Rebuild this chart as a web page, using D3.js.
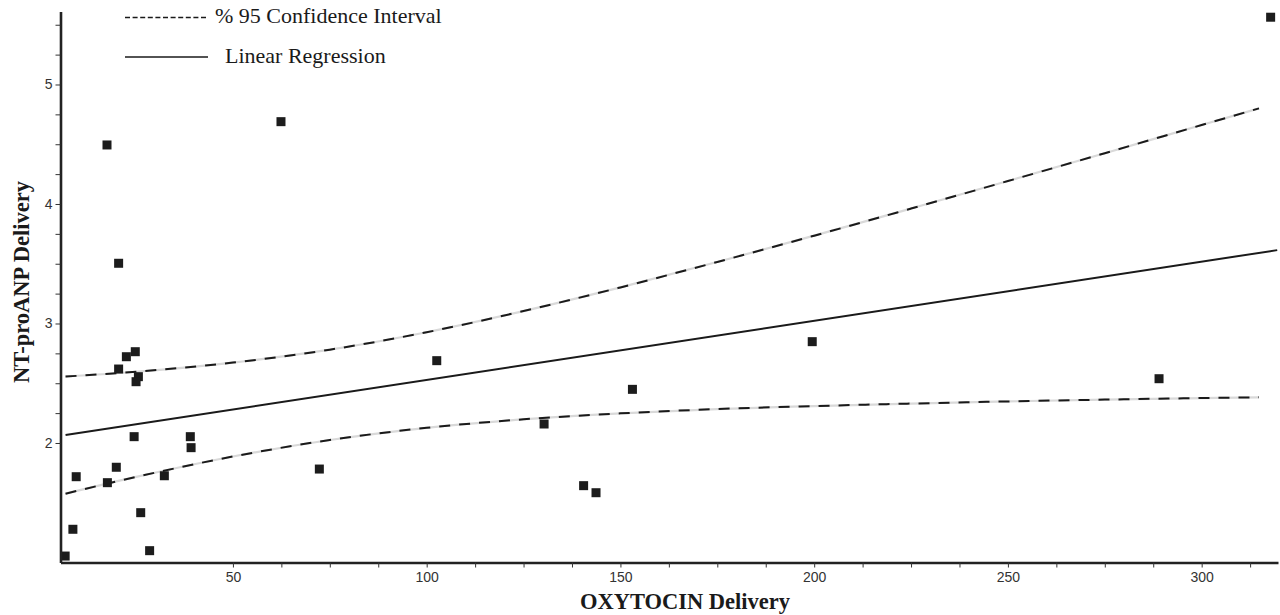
<!DOCTYPE html>
<html>
<head>
<meta charset="utf-8">
<script src="https://cdn.jsdelivr.net/npm/d3@7"></script>
<style>
  html, body { margin: 0; padding: 0; background: #fff; }
  svg { display: block; }
</style>
</head>
<body>
<svg id="chart" width="1280" height="615"></svg>
<script>
// ---- data ----
const oxytocin = [6.7, 8.7, 9.55, 17.6, 19.9, 20.5, 22.5, 24.8, 25.6, 25.0, 24.5, 26.2, 28.5, 32.3, 39.0, 39.2,
                  17.5, 20.5, 62.4, 72.3, 102.6, 130.3, 140.5, 143.7, 153.1, 199.5, 289.0, 317.8];
const ntproanp = [1.054, 1.278, 1.718, 1.668, 1.797, 2.619, 2.722, 2.764, 2.555, 2.513, 2.053, 1.417, 1.099, 1.726, 2.053, 1.961,
                  4.494, 3.504, 4.689, 1.782, 2.689, 2.159, 1.643, 1.584, 2.449, 2.848, 2.538, 5.563];

const regX = [6.8, 319.5];
const regY = [2.066, 3.614];

const ciX     = [6.8, 25, 50, 75, 100, 125, 150, 175, 200, 225, 250, 275, 300, 314.8];
const ciUpper = [2.556, 2.596, 2.673, 2.781, 2.927, 3.104, 3.302, 3.515, 3.735, 3.962, 4.192, 4.425, 4.661, 4.800];
const ciLower = [1.576, 1.716, 1.887, 2.025, 2.127, 2.198, 2.248, 2.284, 2.309, 2.330, 2.348, 2.363, 2.376, 2.382];

const xTickLabels = [50, 100, 150, 200, 250, 300];
const yTickLabels = [2, 3, 4, 5];
const xMinorTicks = [50, 62.5, 75, 87.5, 100, 112.5, 125, 137.5, 150, 162.5, 175, 187.5, 200, 212.5, 225, 237.5, 250, 262.5, 275, 287.5, 300, 312.5];
const yMinorTicks = [2, 2.25, 2.5, 2.75, 3, 3.25, 3.5, 3.75, 4, 4.25, 4.5, 4.75, 5, 5.25, 5.5];

const legendLabels = ["% 95 Confidence Interval", "Linear Regression"];
const xTitle = "OXYTOCIN Delivery";
const yTitle = "NT-proANP Delivery";

// ---- drawing ----
const svg = d3.select("#chart");
const x = d3.scaleLinear().domain([5.5, 319.7]).range([60.5, 1278]);
const y = d3.scaleLinear().domain([1, 5.61]).range([562.5, 11.6]);

const axisColor = "#222";
const tickFont = "'Liberation Sans Narrow', 'Arial Narrow', 'Liberation Sans', Arial, sans-serif";
const serif = "'Liberation Serif', 'Times New Roman', Times, serif";

// CI curves: light grey underlay + black dashes
function ciLine(vals) {
  return d3.line().x((d, i) => x(ciX[i])).y(d => y(d)).curve(d3.curveMonotoneX)(vals);
}
[ciUpper, ciLower].forEach(vals => {
  svg.append("path").attr("d", ciLine(vals)).attr("fill", "none")
    .attr("stroke", "#d9d9d9").attr("stroke-width", 2.2);
  svg.append("path").attr("d", ciLine(vals)).attr("fill", "none")
    .attr("stroke", "#1a1a1a").attr("stroke-width", 2).attr("stroke-dasharray", "11,9");
});

// regression line
svg.append("path")
  .attr("d", d3.line().x((d, i) => x(regX[i])).y(d => y(d))(regY))
  .attr("fill", "none").attr("stroke", "#1a1a1a").attr("stroke-width", 2);

// points
const sz = 9;
svg.append("g").selectAll("rect").data(oxytocin).join("rect")
  .attr("x", (d) => x(d) - sz / 2)
  .attr("y", (d, i) => y(ntproanp[i]) - sz / 2)
  .attr("width", sz).attr("height", sz)
  .attr("fill", "#1c1c1c");

// axes
const xAxis = d3.axisBottom(x).tickValues(xMinorTicks)
  .tickFormat(d => xTickLabels.includes(d) ? d : "")
  .tickSize(5).tickSizeOuter(0).tickPadding(5);
const gx = svg.append("g").attr("transform", `translate(0,${y(1)})`).call(xAxis);

const yAxis = d3.axisLeft(y).tickValues(yMinorTicks)
  .tickFormat(d => yTickLabels.includes(d) ? d : "")
  .tickSize(5).tickSizeOuter(0).tickPadding(3);
const gy = svg.append("g").attr("transform", `translate(${x(5.5)},0)`).call(yAxis);

[gx, gy].forEach(g => {
  g.select(".domain").attr("stroke", axisColor).attr("stroke-width", 2.6);
  g.selectAll(".tick line").attr("stroke", "#333").attr("stroke-width", 1);
  g.selectAll(".tick text").attr("fill", "#333").style("font-family", tickFont).style("font-size", "14px");
});

// axis titles
svg.append("text").attr("x", 685).attr("y", 609).attr("text-anchor", "middle")
  .style("font-family", serif).style("font-weight", "bold").style("font-size", "22.5px")
  .attr("fill", "#1a1a1a").text(xTitle);

svg.append("text").attr("transform", "translate(29,282) rotate(-90)").attr("text-anchor", "middle")
  .style("font-family", serif).style("font-weight", "bold").style("font-size", "22.5px")
  .attr("fill", "#1a1a1a").text(yTitle);

// legend
const lg = svg.append("g");
lg.append("line").attr("x1", 125).attr("x2", 208).attr("y1", 17.5).attr("y2", 17.5)
  .attr("stroke", "#1a1a1a").attr("stroke-width", 1.5).attr("stroke-dasharray", "5,2.6");
lg.append("text").attr("x", 215).attr("y", 23).text(legendLabels[0])
  .style("font-family", serif).style("font-size", "22px").attr("fill", "#1a1a1a");
lg.append("line").attr("x1", 125).attr("x2", 208).attr("y1", 57).attr("y2", 57)
  .attr("stroke", "#1a1a1a").attr("stroke-width", 1.5);
lg.append("text").attr("x", 225).attr("y", 63).text(legendLabels[1])
  .style("font-family", serif).style("font-size", "22px").attr("fill", "#1a1a1a");
</script>
</body>
</html>
